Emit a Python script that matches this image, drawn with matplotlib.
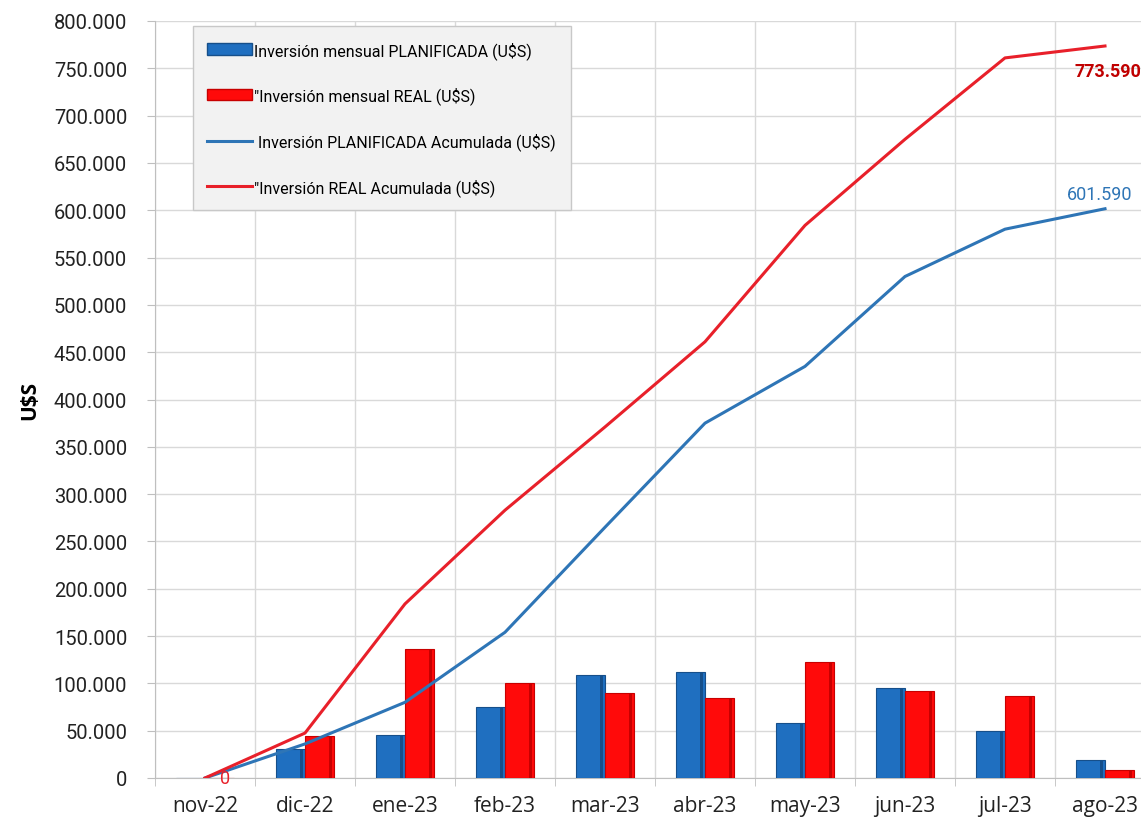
import numpy as np
import matplotlib
matplotlib.use('Agg')
from matplotlib import pyplot as plt
from matplotlib.ticker import FuncFormatter, MultipleLocator
from matplotlib.patches import Patch
from matplotlib.lines import Line2D

months = ['nov-22', 'dic-22', 'ene-23', 'feb-23', 'mar-23', 'abr-23',
          'may-23', 'jun-23', 'jul-23', 'ago-23']
plan_mensual = [0, 30600, 45400, 75000, 108800, 112000, 58100, 95100, 49700, 19000]
real_mensual = [0, 44400, 136300, 100400, 89800, 84500, 122600, 91900, 86700, 8500]
plan_acum = [0, 36000, 80000, 154000, 265000, 375000, 435000, 530000, 580000, 601590]
real_acum = [0, 47500, 184000, 283000, 371000, 461000, 584000, 675000, 761000, 773590]

plt.rcParams['font.family'] = ['Roboto', 'DejaVu Sans']

blue = '#1f6fc0'
blue_dark = '#164f8a'
red = '#ff0a0a'
red_dark = '#c80000'
line_blue = '#2e75b6'
line_red = '#e8202a'

fig = plt.figure(figsize=(11.41, 8.28), dpi=100)
ax = fig.add_axes([155 / 1141, 49 / 828, 1000 / 1141, 757 / 828])

x = np.arange(len(months))
w = 0.29
ax.bar(x - w / 2, plan_mensual, w, color=blue, edgecolor=blue_dark, linewidth=0.8, zorder=3)
ax.bar(x - w / 2 + w * 0.38, plan_mensual, w * 0.12, color=blue_dark, linewidth=0, zorder=3)
ax.bar(x + w / 2, real_mensual, w, color=red, edgecolor=red_dark, linewidth=0.8, zorder=3)
ax.bar(x + w / 2 + w * 0.38, real_mensual, w * 0.12, color=red_dark, linewidth=0, zorder=3)

ax.plot(x, plan_acum, color=line_blue, lw=2.2, zorder=4)
ax.plot(x, real_acum, color=line_red, lw=2.2, zorder=4)

# etiquetas de datos
ax.text(x[0] + 0.2, real_acum[0], '0', color=line_red, fontsize=13,
        ha='center', va='center', zorder=5)
ax.text(x[-1] + 0.36, real_acum[-1] - 26000, '773.590', color='#c00000',
        fontsize=13, fontweight='bold', ha='right', va='center', zorder=5)
ax.text(x[-1] - 0.05, plan_acum[-1] + 16000, '601.590', color=line_blue,
        fontsize=13, ha='center', va='center', zorder=5)

ax.set_xlim(-0.5, 9.5)
ax.set_ylim(0, 800000)
ax.yaxis.set_major_locator(MultipleLocator(50000))
ax.yaxis.set_major_formatter(FuncFormatter(lambda v, p: f'{int(v):,}'.replace(',', '.')))
ax.set_xticks(x)
ax.set_xticklabels(months, family=['Open Sans', 'DejaVu Sans'])
ax.set_xticks(np.arange(-0.5, 10, 1), minor=True)
ax.tick_params(axis='x', which='major', length=0, labelsize=15, pad=12, colors='#222222')
ax.tick_params(axis='x', which='minor', length=6, color='#bfbfbf')
ax.tick_params(axis='y', length=6, color='#bfbfbf', labelsize=14.5, colors='#222222', pad=14)
ax.grid(axis='y', color='#d9d9d9', lw=1, zorder=0)
ax.grid(axis='x', which='minor', color='#d9d9d9', lw=1, zorder=0)
for s in ['top', 'right']:
    ax.spines[s].set_visible(False)
for s in ['left', 'bottom']:
    ax.spines[s].set_color('#bfbfbf')

ax.set_ylabel('U\\$S', fontsize=15, fontweight='bold', labelpad=10,
              family=['Open Sans', 'DejaVu Sans'])

handles = [Patch(facecolor=blue, edgecolor=blue_dark),
           Patch(facecolor=red, edgecolor=red_dark),
           Line2D([], [], color=line_blue, lw=2.2),
           Line2D([], [], color=line_red, lw=2.2)]
labels = ['Inversión mensual PLANIFICADA (U\\$S)',
          '"Inversión mensual REAL (U\\$S)',
          ' Inversión PLANIFICADA Acumulada (U\\$S)',
          '"Inversión REAL Acumulada (U\\$S)']
leg = ax.legend(handles, labels, loc='upper left', bbox_to_anchor=(0.038, 0.993),
                borderaxespad=0, fontsize=11.5, frameon=True, fancybox=False,
                facecolor='#f2f2f2', edgecolor='#c8c8c8', framealpha=1,
                labelspacing=1.75, handlelength=2.8, handletextpad=0.15,
                borderpad=0.9)
leg.set_zorder(6)

plt.savefig('out.png', dpi=100)
